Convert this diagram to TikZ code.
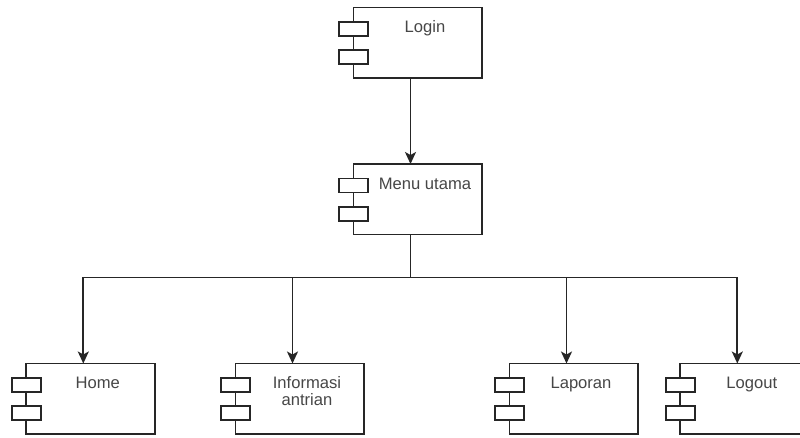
\documentclass[tikz,border=0pt]{standalone}
\usepackage{fontspec}
\setmainfont{Liberation Sans}
\usetikzlibrary{arrows.meta}
\begin{document}
\begin{tikzpicture}[x=1pt,y=-1pt,
  comp/.style={minimum width=143pt, minimum height=70.5pt, inner sep=0pt, outer sep=0pt},
  line/.style={draw=black!85, line width=1.7pt},
  arr/.style={line, -{Stealth[length=12pt,width=11pt,inset=3pt]}},
  lbl/.style={text=black!72, font=\fontsize{16.6}{17.7}\selectfont, inner sep=0pt, align=center}
]
\useasboundingbox (0,0) rectangle (800,437);
\clip (0,0) rectangle (800,437);
\fill[white] (0,0) rectangle (800,437);

\node[comp] (login)  at (410.5,42.75) {};
\node[comp] (menu)   at (410.5,199.25) {};
\node[comp] (home)   at (83.3,398.75) {};
\node[comp] (info)   at (292.5,398.75) {};
\node[comp] (lap)    at (566.5,398.75) {};
\node[comp] (logout) at (737.3,398.75) {};

\foreach \n in {login,menu,home,info,lap,logout}{
  \draw[line] ([xshift=14.5pt]\n.north west) rectangle (\n.south east);
  \draw[line,fill=white] ([yshift=-14.5pt]\n.north west) rectangle ++(29,14);
  \draw[line,fill=white] ([yshift=-42.7pt]\n.north west) rectangle ++(29,14);
}

\node[lbl,anchor=base] (login-t) at ([xshift=14.5pt,yshift=-24.8pt]login.north) {Login};
\node[lbl,anchor=base] (menu-t) at ([xshift=14.5pt,yshift=-25pt]menu.north) {Menu utama};
\node[lbl,anchor=base] (home-t) at ([xshift=14.5pt,yshift=-24.8pt]home.north) {Home};
\node[lbl,anchor=north] (info-t) at ([xshift=14.5pt,yshift=-12.3pt]info.north) {Informasi\\antrian};
\node[lbl,anchor=base] (lap-t) at ([xshift=14.5pt,yshift=-24.8pt]lap.north) {Laporan};
\node[lbl,anchor=base] (logout-t) at ([xshift=14.5pt,yshift=-24.8pt]logout.north) {Logout};

\draw[arr] (login.south) -- (menu.north);
\coordinate (j) at ([yshift=-43pt]menu.south);
\draw[line] (menu.south) -- (j);
\draw[arr] (j) -| (home.north);
\draw[arr] (j) -| (info.north);
\draw[arr] (j) -| (lap.north);
\draw[arr] (j) -| (logout.north);
\end{tikzpicture}
\end{document}
